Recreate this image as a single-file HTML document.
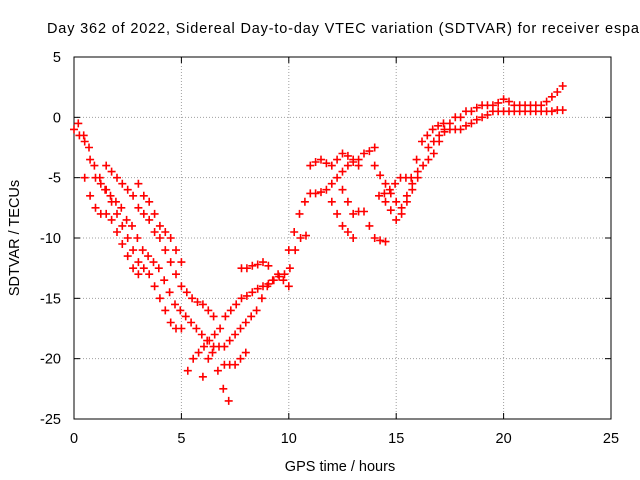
<!DOCTYPE html>
<html><head><meta charset="utf-8"><style>
html,body{margin:0;padding:0;background:#fff;}
svg{display:block;font-family:"Liberation Sans",sans-serif;}
</style></head><body>
<svg id="chart" width="640" height="480" viewBox="0 0 640 480" xmlns="http://www.w3.org/2000/svg">
<rect width="640" height="480" fill="#fff"/>
<text x="47" y="33" font-size="14.5" fill="#000" textLength="592" lengthAdjust="spacing">Day 362 of 2022, Sidereal Day-to-day VTEC variation (SDTVAR) for receiver espa</text>
<g id="grid"></g>
<g id="axes"></g>
<g id="marks"></g>
<text x="340" y="471" font-size="14.5" text-anchor="middle">GPS time / hours</text>
<text x="0" y="0" font-size="14.5" text-anchor="middle" transform="translate(19,238) rotate(-90)">SDTVAR / TECUs</text>
</svg>
<script>
const xTicks=[0,5,10,15,20,25];
const yTicks=[5,0,-5,-10,-15,-20,-25];
const trackStarts=[0,0.2,0.5,1.5,3,5.3,6,7,7.8,10,11,12.5,12,14,14.5,14.2];
const trackStep=0.25;
const t1=[-1,-1.5,-2,-3.5,-5,-5.5,-6,-7,-8,-9,-10,-11,-12,-12.5,-13,-14,-15,-16,-17,-17.5,-17.5];
const t2=[-0.5,-1.5,-2.5,-4,-5,-6,-6.5,-7,-7.5,-8.5,-9,-10,-11,-11.5,-12,-12.5,-13.5,-14.5,-15.5,-16,-16.5,-17,-17.5,-18,-18.5,-19.5,-21,-22.5,-23.5];
const t3=[-5,-6.5,-7.5,-8,-8,-8.5,-9.5,-10.5,-11.5,-12.5,-13];
const t4=[-4,-4.5,-5,-5.5,-6,-6.5,-7.5,-8,-8.5,-9.5,-10,-11,-12,-13,-14,-14.5,-15,-15.3,-15.5,-16,-16.5];
const t5=[-5.5,-6.5,-7,-8,-9,-9.5,-10,-11,-12];
const t6=[-21,-20,-19.5,-19,-18.5,-18,-17.5,-16.5,-16,-15.5,-15,-14.8,-14.5,-14.2,-14,-13.8,-13.5,-13.2,-13,-12.5,-11,-10,-9.8];
const t7=[-21.5,-20,-19,-19,-19,-18.5,-18,-17.5,-17,-16.5,-16,-15,-14,-13.5,-13,-13.5,-14];
const t8=[-20.5,-20.5,-20.5,-20,-19.5];
const t9=[-12.5,-12.5,-12.3,-12.2,-12,-12.3];
const t10=[-11,-9.5,-8,-7,-6.3,-6.3,-6.2,-6,-5.5,-5,-4.5,-4,-3.7,-3.5,-3,-2.8,-2.5];
const t11=[-4,-3.7,-3.5,-3.8,-4,-3.5,-3,-3.2,-3.5,-4];
const t12=[-6,-7,-8,-7.8,-7.8,-9,-10,-10.2,-10.3];
const t13=[-7,-8,-9,-9.5,-10];
const t14=[-4,-4.8,-5.5,-6.3,-7,-7.5,-6.5,-5.5,-4.5,-4,-3.5,-3,-2,-1,-0.5,0,0,0.5,0.5,0.8,1,1,1,1.2,1.5,1.3,1,1,1,1,1,1,1.3,1.7,2.1,2.6];
const t15=[-7,-7.7,-8.5,-8,-7,-6,-5,-4,-2.5,-2,-1.5,-1.2,-1,-1,-1,-0.7,-0.5,-0.2,0,0.2,0.5,0.5,0.5,0.5,0.5,0.5,0.5,0.5,0.5,0.5,0.5,0.5,0.6,0.6];
const t16=[-6.5,-6.3,-6,-5.5,-5,-5,-5,-3.5,-2,-1.5,-1,-0.7,-0.5];
const tracks=[t1,t2,t3,t4,t5,t6,t7,t8,t9,t10,t11,t12,t13,t14,t15,t16];

const L=74,R=611,T=57,B=419;
const xs=h=>L+(h-0)/25*(R-L);
const ys=v=>T+(5-v)/30*(B-T);
const NS='http://www.w3.org/2000/svg';
function mk(tag,attrs,parent){const e=document.createElementNS(NS,tag);for(const k in attrs)e.setAttribute(k,attrs[k]);parent.appendChild(e);return e;}
const grid=document.getElementById('grid'),axes=document.getElementById('axes'),marks=document.getElementById('marks');
xTicks.forEach(t=>{const x=xs(t);
 if(t>0&&t<25){const g=mk('line',{x1:x,y1:T,x2:x,y2:B,stroke:'#a0a0a0','stroke-dasharray':'1,2','stroke-width':1},grid);
 }
 mk('line',{x1:x,y1:B,x2:x,y2:B-6,stroke:'#000'},axes);mk('line',{x1:x,y1:T,x2:x,y2:T+6,stroke:'#000'},axes);
 const lb=mk('text',{x:x,y:443,'font-size':14.5,'text-anchor':'middle'},axes);lb.textContent=t;
 });
yTicks.forEach(t=>{const y=ys(t);
 if(t<5&&t>-25){const g=mk('line',{x1:L,y1:y,x2:R,y2:y,stroke:'#a0a0a0','stroke-dasharray':'1,2','stroke-width':1},grid);
 }
 mk('line',{x1:L,y1:y,x2:L+6,y2:y,stroke:'#000'},axes);mk('line',{x1:R,y1:y,x2:R-6,y2:y,stroke:'#000'},axes);
 const lb=mk('text',{x:61,y:y+5,'font-size':14.5,'text-anchor':'end'},axes);lb.textContent=t;
 });
const fr=mk('rect',{x:L,y:T,width:R-L,height:B-T,fill:'none',stroke:'#000'},axes);


let d='';
tracks.forEach((vals,i)=>{vals.forEach((v,j)=>{const x=xs(trackStarts[i]+j*trackStep),y=ys(v);
 d+=`M${(x-4).toFixed(1)} ${y.toFixed(1)}h8M${x.toFixed(1)} ${(y-4).toFixed(1)}v8`;});});
const p=mk('path',{d:d,stroke:'#f00','stroke-width':1.6,fill:'none'},marks);


</script>
</body></html>
